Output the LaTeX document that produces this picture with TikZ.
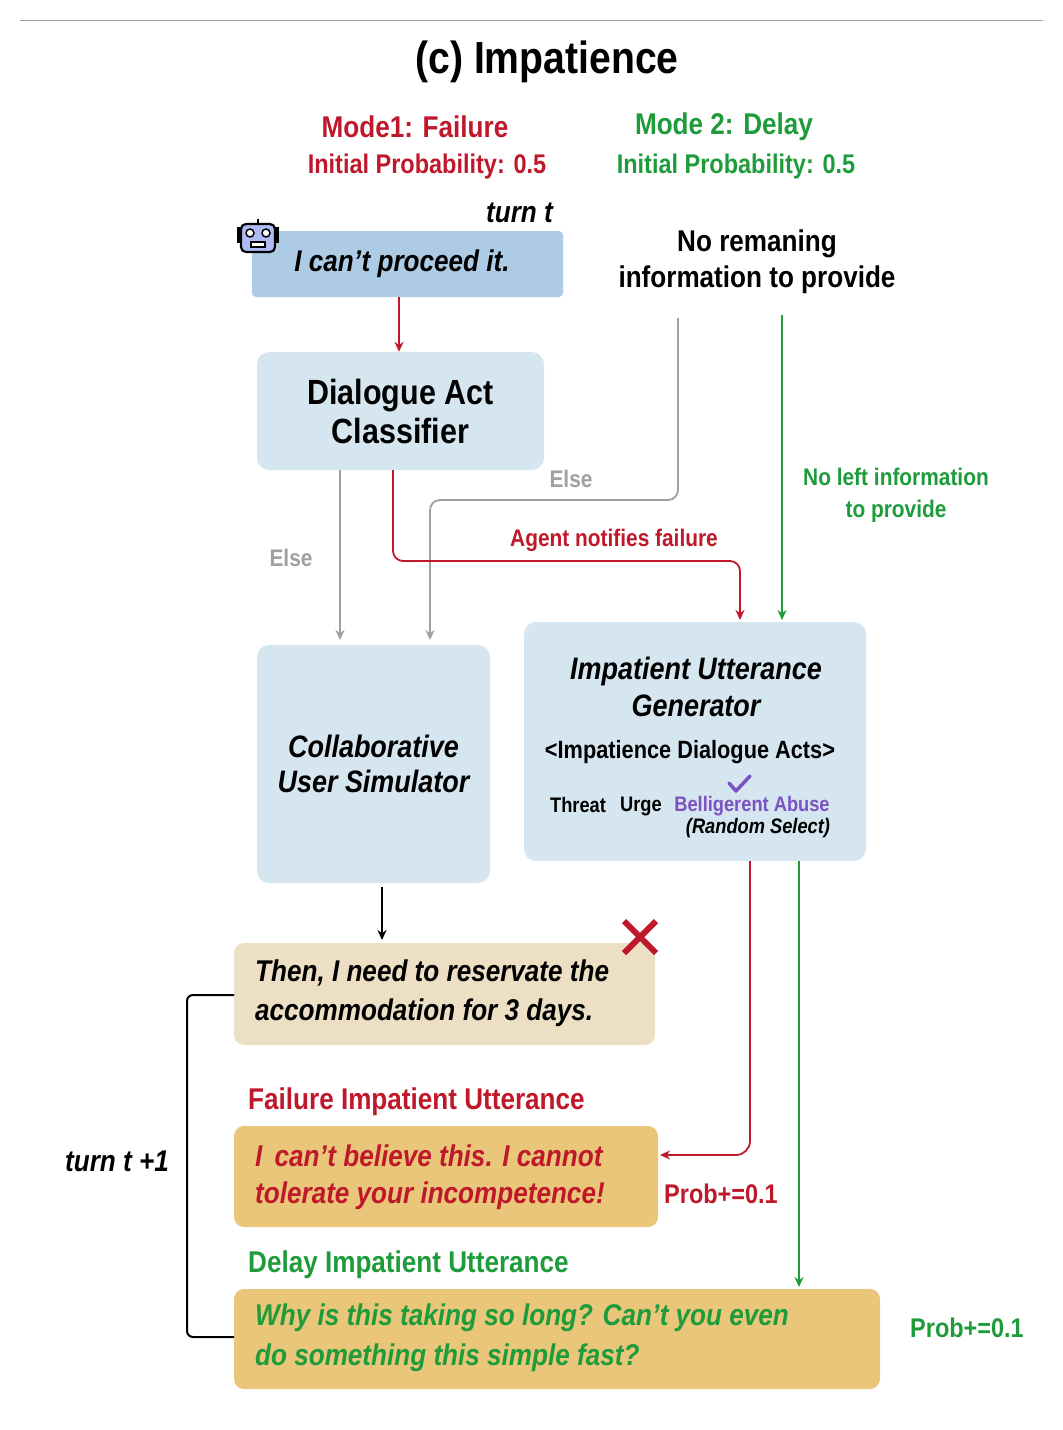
\documentclass[tikz,border=0pt]{standalone}
\usepackage{fontspec}
\setmainfont{Liberation Sans}[FakeStretch=0.87]
\usetikzlibrary{arrows.meta}
\definecolor{cred}{HTML}{C0182B}
\definecolor{cgreen}{HTML}{1E9B3A}
\definecolor{cgray}{HTML}{A0A0A0}
\definecolor{cpurple}{HTML}{7B52C1}
\definecolor{lblue}{HTML}{D6E6F0}
\definecolor{mblue}{HTML}{AECBE6}
\definecolor{beige}{HTML}{EDDFC3}
\definecolor{orng}{HTML}{E9C679}
\newcommand{\fs}[1]{\fontsize{#1}{#1}\selectfont}
\begin{document}
\begin{tikzpicture}[x=1pt,y=-1pt,
  box/.style={rounded corners=12pt,draw=none},
  arr/.style={line width=1.8pt,-{Stealth[length=10pt,width=9pt]}},
  lab/.style={inner sep=0,font=\fs{24}\bfseries},
  txt/.style={inner sep=0,anchor=west,font=\fs{30}\bfseries\itshape}]
\useasboundingbox (0,0) rectangle (1063,1430);
\draw[cgray,line width=1pt] (20,20) -- (1043,20);
\node[inner sep=0,font=\fs{45}\bfseries] (title) at (547,62) {(c) Impatience};
\node[lab,cred,font=\fs{30}\bfseries] (m1) at (415,127) {Mode1: Failure};
\node[lab,cred,font=\fs{27}\bfseries] (p1) at (427,167) {Initial Probability: 0.5};
\node[lab,cgreen,font=\fs{30}\bfseries] (m2) at (724,127) {Mode 2: Delay};
\node[lab,cgreen,font=\fs{27}\bfseries] (p2) at (736,167) {Initial Probability: 0.5};
\node[inner sep=0,anchor=east,font=\fs{30}\bfseries\itshape] (tt) at (553,213) {turn t};
% box 1
\fill[mblue,rounded corners=4pt] (252,231) rectangle (563,297);
\node[inner sep=0,font=\fs{30}\bfseries\itshape] (b1) at (402,264) {I can’t proceed it.};
\coordinate (b1s) at (399,297);
% robot
\begin{scope}[shift={(258,236)}]
\draw[line width=2pt,fill=white] (-20,-8) rectangle (-18,6);
\draw[line width=2pt,fill=white] (20,-8) rectangle (18,6);
\draw[line width=2.2pt,fill=mblue!70!blue!60,rounded corners=5pt] (-17,-12) rectangle (17,16);
\fill[white] (-8,-3) circle (4);\fill[white] (8,-3) circle (4);
\draw[line width=1.5pt] (-8,-3) circle (4);\draw[line width=1.5pt] (8,-3) circle (4);
\draw[line width=1.8pt,fill=white] (-7,6) rectangle (7,11);
\draw[line width=2pt] (0,-12) -- (0,-17);
\end{scope}
\node[inner sep=0,align=center,font=\fs{30}\bfseries] (nr) at (757,262) {No remaning\\[6pt]information to provide};
\coordinate (grayTop) at (678,318);
\coordinate (greenTop) at (782,315);
% DAC
\node[box,fill=lblue,minimum width=287pt,minimum height=118pt,align=center,font=\fs{35}\bfseries] (dac) at (400.5,411) {Dialogue Act\\[4pt]Classifier};
\draw[cred,arr] (b1s) -- (dac.north -| b1s);
% collab
\node[box,fill=lblue,minimum width=233pt,minimum height=238pt,align=center,font=\fs{31}\bfseries\itshape] (cus) at (373.5,764) {Collaborative\\[4pt]User Simulator};
% IUG
\node[box,fill=lblue,minimum width=342pt,minimum height=239pt] (iug) at (695,741.5) {};
\node[inner sep=0,align=center,font=\fs{31}\bfseries\itshape] (iugt) at (696,687) {Impatient Utterance\\[6pt]Generator};
\node[inner sep=0,font=\fs{25}\bfseries] (ida) at (690,752) {<Impatience Dialogue Acts>};
\draw[cpurple,line width=3.5pt,line cap=round,line join=round] (729,783) -- (736,791) -- (750,776);
\node[inner sep=0,font=\fs{21}\bfseries] (thr) at (578,805) {Threat};
\node[inner sep=0,font=\fs{21}\bfseries] (urg) at (641,806) {Urge};
\node[inner sep=0,cpurple,font=\fs{21}\bfseries] (bel) at (752,806) {Belligerent Abuse};
\node[inner sep=0,font=\fs{21}\bfseries\itshape] (rs) at (758,828) {(Random Select)};
% connectors
\draw[cgray,arr] (340,470) -- (340,640);
\node[lab,cgray] (e1) at (291,558) {Else};
\draw[cgray,arr,rounded corners=10pt] (grayTop) -- (678,500) -- (430,500) -- (430,640);
\node[lab,cgray] (e2) at (571,479) {Else};
\draw[cred,arr,rounded corners=10pt] (393,470) -- (393,561) -- (740,561) -- (740,620);
\node[lab,cred] (an) at (614,540) {Agent notifies failure};
\draw[cgreen,arr] (greenTop) -- (782,620);
\node[lab,cgreen,align=center] (nl) at (896,495) {No left information\\[8pt]to provide};
% beige box
\fill[beige,rounded corners=10pt] (234,943) rectangle (655,1045);
\node[txt] (bt1) at (255,973) {Then, I need to reservate the};
\node[txt] (bt2) at (255,1013) {accommodation for 3 days.};
\draw[arr] (382,887) -- (382,940);
\draw[cred,line width=6pt] (624,921) -- (656,953) (656,921) -- (624,953);
% failure
\node[inner sep=0,anchor=west,cred,font=\fs{30}\bfseries] (fl) at (248,1102) {Failure Impatient Utterance};
\fill[orng,rounded corners=10pt] (234,1126) rectangle (658,1227);
\node[txt,cred] (f1) at (255,1156) {I\, can’t believe this. I cannot};
\node[txt,cred] (f2) at (255,1196) {tolerate your incompetence!};
\draw[cred,arr,rounded corners=14pt] (750,861) -- (750,1155) -- (660,1155);
\node[lab,cred,font=\fs{27}\bfseries] (pr1) at (721,1194) {Prob+=0.1};
% delay
\node[inner sep=0,anchor=west,cgreen,font=\fs{30}\bfseries] (dl) at (248,1265) {Delay Impatient Utterance};
\fill[orng,rounded corners=10pt] (234,1289) rectangle (880,1389);
\node[txt,cgreen] (d1) at (255,1318) {Why is this taking so long? Can{\char"27}t you even};
\node[txt,cgreen] (d2) at (255,1358) {do something this simple fast?};
\draw[cgreen,arr] (799,861) -- (799,1287);
\node[lab,cgreen,font=\fs{27}\bfseries] (pr2) at (967,1328) {Prob+=0.1};
% bracket
\draw[line width=2pt,rounded corners=6pt] (234,995) -- (187,995) -- (187,1337) -- (234,1337);
\node[inner sep=0,font=\fs{30}\bfseries\itshape] (t1) at (117,1161) {turn t +1};
\end{tikzpicture}
\end{document}
